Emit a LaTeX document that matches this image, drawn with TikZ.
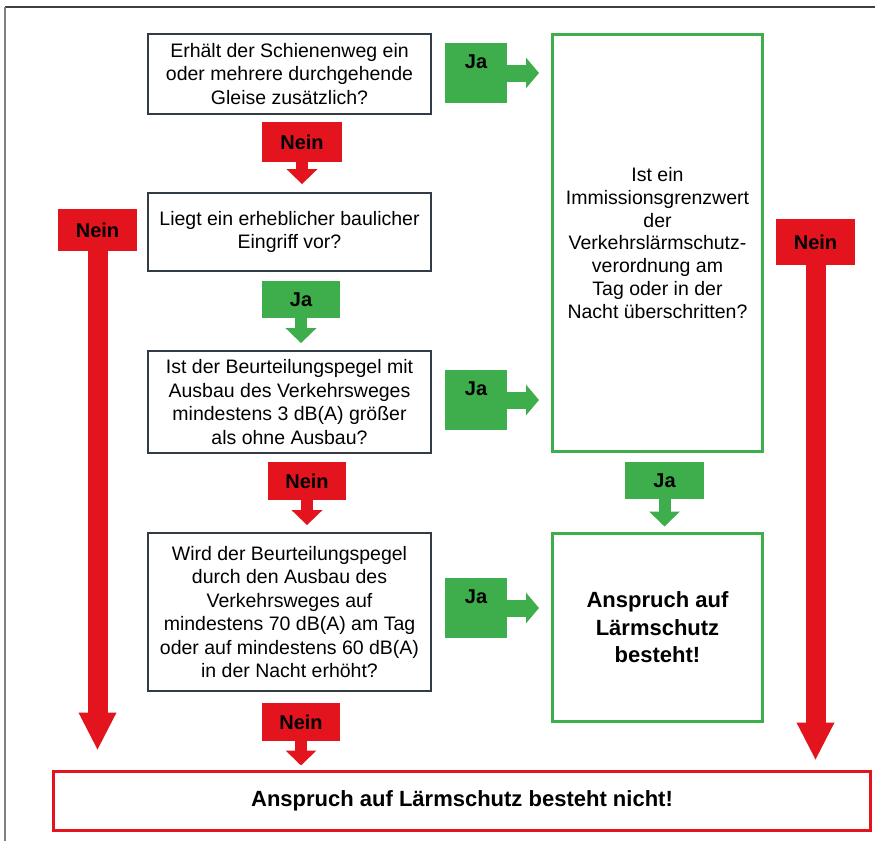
\documentclass[tikz,border=0pt]{standalone}
\usepackage{fontspec}
\setmainfont{Liberation Sans}
\usetikzlibrary{arrows.meta}
\definecolor{rd}{HTML}{E3141E}
\definecolor{gn}{HTML}{3DAE4B}
\definecolor{bx}{HTML}{333B44}
\begin{document}
\begin{tikzpicture}[x=1pt,y=-1pt,
  qbox/.style={draw=bx, line width=1.8pt, minimum width=283pt, align=center, inner sep=0pt,
    font=\fontsize{19.5}{23.5}\selectfont},
  gbox/.style={draw=gn, line width=3pt, minimum width=210pt, align=center, inner sep=0pt,
    font=\fontsize{19.5}{22.7}\selectfont},
  rbox/.style={draw=rd, line width=3pt, minimum width=817pt, minimum height=59pt, inner sep=0pt,
    font=\fontsize{22}{26}\bfseries\selectfont},
  lbl/.style={inner sep=0pt, font=\fontsize{20}{24}\bfseries\selectfont},
  nein/.style={lbl, fill=rd},
  ja/.style={lbl, fill=gn},
  jaside/.style={ja, minimum width=62pt, text height=25pt, text depth=35pt},
  rarr/.style={draw=rd, line width=12pt, -{Triangle[width=30pt,length=15pt]}},
  garr/.style={draw=gn, line width=12pt, -{Triangle[width=30pt,length=15pt]}},
  gside/.style={draw=gn, line width=17pt, -{Triangle[width=30pt,length=13pt]}},
  bigarr/.style={draw=rd, line width=20pt, -{Triangle[width=35pt,length=38pt]}}
]
\useasboundingbox (0,0) rectangle (875,841);
% frame
\draw[line width=2pt, black!75] (5,7) -- (875,7);
\draw[line width=1.5pt, black!50] (5,7) -- (5,841);

% question boxes
\node[qbox, minimum height=80pt] (q1) at (289.5,74)
  {Erhält der Schienenweg ein\\oder mehrere durchgehende\\Gleise zusätzlich?};
\node[qbox, minimum height=78pt] (q2) at (289.5,232)
  {Liegt ein erheblicher baulicher\\Eingriff vor?};
\node[qbox, minimum height=102pt] (q3) at (289.5,402)
  {Ist der Beurteilungspegel mit\\Ausbau des Verkehrsweges\\mindestens 3 dB(A) größer\\als ohne Ausbau?};
\node[qbox, minimum height=158pt] (q4) at (289.5,612)
  {Wird der Beurteilungspegel\\durch den Ausbau des\\Verkehrsweges auf\\mindestens 70 dB(A) am Tag\\oder auf mindestens 60 dB(A)\\in der Nacht erhöht?};

% green boxes
\node[gbox, minimum height=417pt] (g1) at (657.5,243)
  {Ist ein\\Immissionsgrenzwert\\der\\Verkehrslärmschutz-\\verordnung am\\Tag oder in der\\Nacht überschritten?};
\node[gbox, minimum height=188pt, font=\fontsize{22}{27.5}\bfseries\selectfont] (g2) at (657.5,627.5)
  {Anspruch auf\\Lärmschutz\\besteht!};

% red result box
\node[rbox] (r1) at (462,801) {Anspruch auf Lärmschutz besteht nicht!};

% labels
\node[jaside] (ja1) at (476,73) {Ja};
\node[jaside] (ja3) at (476,400) {Ja};
\node[jaside] (ja4) at (476,608) {Ja};
\node[nein, minimum width=80pt, minimum height=40pt] (n1) at (302,142) {Nein};
\node[ja, minimum width=78pt, minimum height=37pt] (ja2) at (301,299.5) {Ja};
\node[nein, minimum width=78pt, minimum height=38pt] (n3) at (307,481) {Nein};
\node[ja, minimum width=79pt, minimum height=37pt] (ja5) at (664.5,480.5) {Ja};
\node[nein, minimum width=78pt, minimum height=38pt] (n4) at (301,722) {Nein};
\node[nein, minimum width=79pt, minimum height=42pt] (nL) at (97.5,230) {Nein};
\node[nein, minimum width=79pt, minimum height=46pt] (nR) at (815.5,242) {Nein};

% connectors
\draw[gside, shorten >=12pt] (ja1.east) -- (ja1.east -| g1.west);
\draw[gside, shorten >=12pt] (ja3.east) -- (ja3.east -| g1.west);
\draw[gside, shorten >=12pt] (ja4.east) -- (ja4.east -| g2.west);
\draw[rarr, shorten >=8pt] (n1.south) -- (n1.south |- q2.north);
\draw[garr, shorten >=7pt] (ja2.south) -- (ja2.south |- q3.north);
\draw[rarr, shorten >=7pt] (n3.south) -- (n3.south |- q4.north);
\draw[garr, shorten >=5.5pt] (ja5.south) -- (ja5.south |- g2.north);
\draw[rarr, shorten >=4.5pt] (n4.south) -- (n4.south |- r1.north);
\draw[bigarr, shorten >=19.5pt] (nL.south) -- (nL.south |- r1.north);
\draw[bigarr, shorten >=9.5pt] (nR.south) -- (nR.south |- r1.north);
\end{tikzpicture}
\end{document}
